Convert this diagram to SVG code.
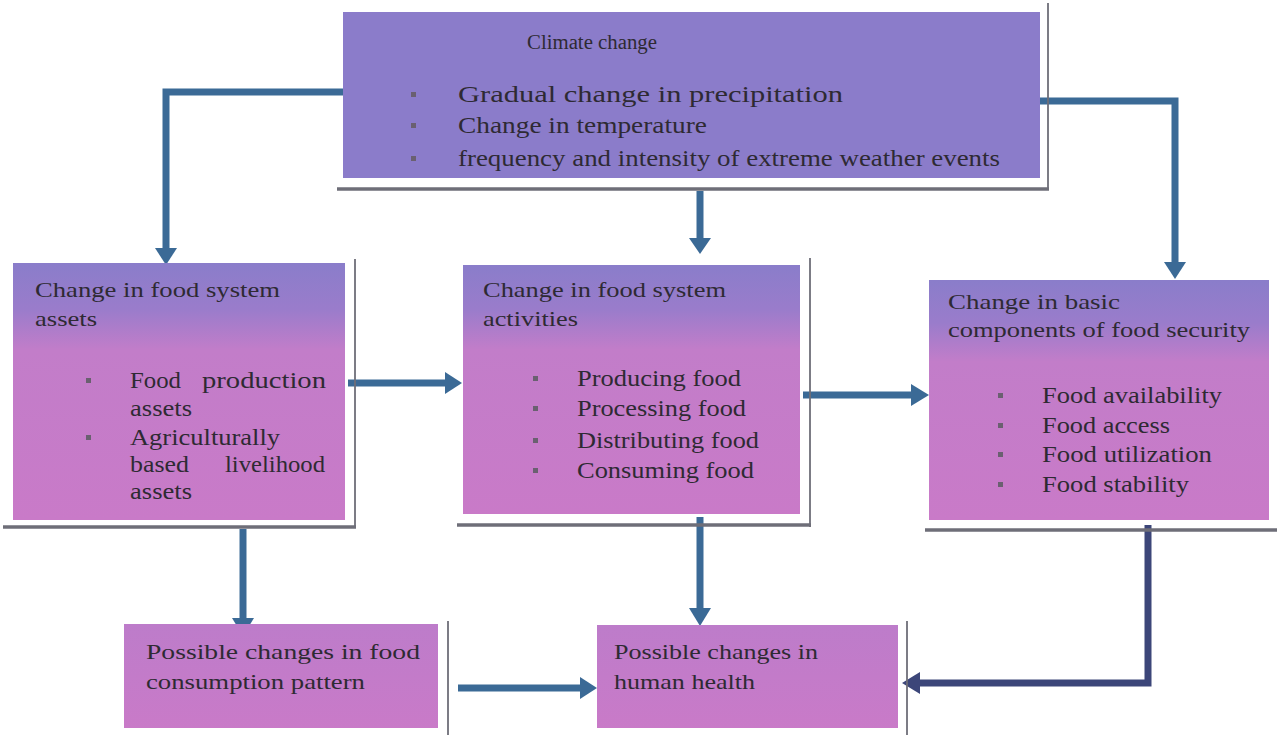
<svg xmlns="http://www.w3.org/2000/svg" width="1277" height="735" viewBox="0 0 1277 735">
<defs>
<style>
.t{font-family:"Liberation Serif","Times New Roman",serif;fill:#2e2a33;}
.h{font-size:21px;}
.i{font-size:23px;}
.frame{stroke:#6e6e78;fill:none;}
.fb{stroke-width:3.5;}
.fr{stroke-width:1.8;}
.conn{stroke:#3b6a96;stroke-width:7;fill:none;}
.conn2{stroke:#3c4679;stroke-width:7;fill:none;}
.ah{fill:#3b6a96;}
.ah2{fill:#3c4679;}
.bul{fill:#6a6070;}
</style>
<linearGradient id="gMid" x1="0" y1="0" x2="0" y2="1">
<stop offset="0" stop-color="#8a7dca"/>
<stop offset="0.18" stop-color="#9a7ccb"/>
<stop offset="0.34" stop-color="#c27dc9"/>
<stop offset="1" stop-color="#c97ac8"/>
</linearGradient>
<linearGradient id="gBot" x1="0" y1="0" x2="0" y2="1">
<stop offset="0" stop-color="#bd7cca"/>
<stop offset="1" stop-color="#c97ac8"/>
</linearGradient>
</defs>
<rect x="0" y="0" width="1277" height="735" fill="#ffffff"/>

<g id="connectors">
<path class="conn" d="M346,92 H166 V250"/>
<polygon class="ah" points="155,248 177,248 166,265"/>
<path class="conn" d="M700,191 V240"/>
<polygon class="ah" points="689,238 711,238 700,254"/>
<path class="conn" d="M1038,101 H1175 V264"/>
<polygon class="ah" points="1164,262 1186,262 1175,279"/>
<path class="conn" d="M348,383 H447"/>
<polygon class="ah" points="445,372 445,394 462,383"/>
<path class="conn" d="M803,395 H913"/>
<polygon class="ah" points="911,384 911,406 929,395"/>
<path class="conn" d="M243,529 V620"/>
<polygon class="ah" points="232,618 254,618 243,636"/>
<path class="conn" d="M700,517 V610"/>
<polygon class="ah" points="689,608 711,608 700,626"/>
<path class="conn" d="M458,688 H582"/>
<polygon class="ah" points="580,677 580,699 597,688"/>
<path class="conn2" d="M1148,525 V683 H918"/>
<polygon class="ah2" points="920,672 920,694 902,683"/>
</g>

<g id="climate">
<rect x="343" y="12" width="697" height="166" fill="#8b7cca"/>
<path class="frame fr" d="M1048,3 V190"/>
<path class="frame fb" d="M337,189 H1049"/>
<text class="t" x="527" y="49" font-size="20" textLength="130" lengthAdjust="spacingAndGlyphs">Climate change</text>
<rect class="bul" x="411" y="92" width="5" height="5"/>
<rect class="bul" x="411" y="123" width="5" height="5"/>
<rect class="bul" x="411" y="156" width="5" height="5"/>
<text class="t i" x="458" y="102" textLength="385" lengthAdjust="spacingAndGlyphs">Gradual change in precipitation</text>
<text class="t i" x="458" y="133" textLength="249" lengthAdjust="spacingAndGlyphs">Change in temperature</text>
<text class="t i" x="458" y="166" textLength="542" lengthAdjust="spacingAndGlyphs">frequency and intensity of extreme weather events</text>
</g>

<g id="assets">
<rect x="13" y="263" width="332" height="257" fill="url(#gMid)"/>
<path class="frame fr" d="M355,259 V528"/>
<path class="frame fb" d="M3,527 H356"/>
<text class="t h" x="35" y="297" textLength="245" lengthAdjust="spacingAndGlyphs">Change in food system</text>
<text class="t h" x="35" y="326" textLength="62" lengthAdjust="spacingAndGlyphs">assets</text>
<rect class="bul" x="86" y="378" width="5" height="5"/>
<rect class="bul" x="86" y="435" width="5" height="5"/>
<text class="t i" x="130" y="388" textLength="51" lengthAdjust="spacingAndGlyphs">Food</text>
<text class="t i" x="326" y="388" text-anchor="end" textLength="124" lengthAdjust="spacingAndGlyphs">production</text>
<text class="t i" x="130" y="416" textLength="62" lengthAdjust="spacingAndGlyphs">assets</text>
<text class="t i" x="130" y="445" textLength="150" lengthAdjust="spacingAndGlyphs">Agriculturally</text>
<text class="t i" x="130" y="472" textLength="59" lengthAdjust="spacingAndGlyphs">based</text>
<text class="t i" x="325" y="472" text-anchor="end" textLength="100" lengthAdjust="spacingAndGlyphs">livelihood</text>
<text class="t i" x="130" y="499" textLength="62" lengthAdjust="spacingAndGlyphs">assets</text>
</g>

<g id="activities">
<rect x="463" y="265" width="337" height="249" fill="url(#gMid)"/>
<path class="frame fr" d="M810,258 V527"/>
<path class="frame fb" d="M457,525 H811"/>
<text class="t h" x="483" y="297" textLength="243" lengthAdjust="spacingAndGlyphs">Change in food system</text>
<text class="t h" x="483" y="326" textLength="95" lengthAdjust="spacingAndGlyphs">activities</text>
<rect class="bul" x="533" y="376" width="5" height="5"/>
<rect class="bul" x="533" y="406" width="5" height="5"/>
<rect class="bul" x="533" y="438" width="5" height="5"/>
<rect class="bul" x="533" y="468" width="5" height="5"/>
<text class="t i" x="577" y="386" textLength="164" lengthAdjust="spacingAndGlyphs">Producing food</text>
<text class="t i" x="577" y="416" textLength="169" lengthAdjust="spacingAndGlyphs">Processing food</text>
<text class="t i" x="577" y="448" textLength="182" lengthAdjust="spacingAndGlyphs">Distributing food</text>
<text class="t i" x="577" y="478" textLength="177" lengthAdjust="spacingAndGlyphs">Consuming food</text>
</g>

<g id="security">
<rect x="929" y="280" width="340" height="240" fill="url(#gMid)"/>
<path class="frame fb" d="M925,530 H1277"/>
<text class="t h" x="948" y="309" textLength="172" lengthAdjust="spacingAndGlyphs">Change in basic</text>
<text class="t h" x="948" y="337" textLength="302" lengthAdjust="spacingAndGlyphs">components of food security</text>
<rect class="bul" x="998" y="393" width="5" height="5"/>
<rect class="bul" x="998" y="423" width="5" height="5"/>
<rect class="bul" x="998" y="452" width="5" height="5"/>
<rect class="bul" x="998" y="482" width="5" height="5"/>
<text class="t i" x="1042" y="403" textLength="180" lengthAdjust="spacingAndGlyphs">Food availability</text>
<text class="t i" x="1042" y="433" textLength="128" lengthAdjust="spacingAndGlyphs">Food access</text>
<text class="t i" x="1042" y="462" textLength="170" lengthAdjust="spacingAndGlyphs">Food utilization</text>
<text class="t i" x="1042" y="492" textLength="147" lengthAdjust="spacingAndGlyphs">Food stability</text>
</g>

<g id="consumption">
<rect x="124" y="624" width="314" height="104" fill="url(#gBot)"/>
<path class="frame fr" d="M448,621 V735"/>
<text class="t h" x="146" y="659" textLength="274" lengthAdjust="spacingAndGlyphs">Possible changes in food</text>
<text class="t h" x="146" y="689" textLength="219" lengthAdjust="spacingAndGlyphs">consumption pattern</text>
</g>

<g id="health">
<rect x="597" y="625" width="301" height="103" fill="url(#gBot)"/>
<path class="frame fr" d="M907,621 V735"/>
<text class="t h" x="614" y="659" textLength="204" lengthAdjust="spacingAndGlyphs">Possible changes in</text>
<text class="t h" x="614" y="689" textLength="141" lengthAdjust="spacingAndGlyphs">human health</text>
</g>
</svg>
